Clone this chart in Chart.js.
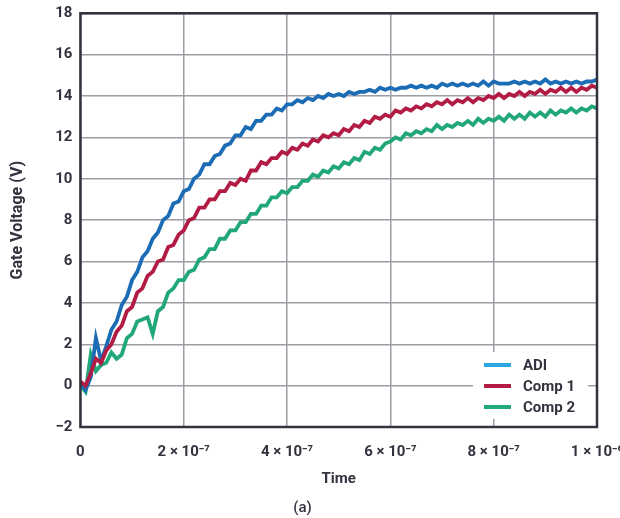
<!DOCTYPE html>
<html>
<head>
<meta charset="utf-8">
<script src="https://cdn.jsdelivr.net/npm/chart.js@4"></script>
<style>
  html, body { margin: 0; padding: 0; background: #ffffff; overflow: hidden; }
  #wrap { position: relative; width: 650px; height: 518px; }
</style>
</head>
<body>
<div id="wrap"><canvas id="gateChart"></canvas></div>
<script>
// time samples in ns
const timeNs = [0,10,20,30,40,50,60,70,80,90,100,110,120,130,140,150,160,170,180,190,
  200,210,220,230,240,250,260,270,280,290,300,310,320,330,340,350,360,370,380,390,
  400,410,420,430,440,450,460,470,480,490,500,510,520,530,540,550,560,570,580,590,
  600,610,620,630,640,650,660,670,680,690,700,710,720,730,740,750,760,770,780,790,
  800,810,820,830,840,850,860,870,880,890,900,910,920,930,940,950,960,970,980,990,1000];

const adiVolts = [0.1,-0.2,0.4,2.3,1.2,1.9,2.7,3.1,3.9,4.3,5.1,5.5,6.2,6.5,7.1,7.4,8.0,8.2,8.8,8.9,
  9.4,9.5,10.0,10.2,10.7,10.7,11.1,11.2,11.6,11.7,12.1,12.1,12.5,12.4,12.8,12.8,13.1,13.1,13.4,13.3,
  13.6,13.6,13.8,13.7,13.9,13.8,14.0,13.9,14.1,14.0,14.1,14.0,14.2,14.1,14.2,14.2,14.3,14.2,14.4,14.3,
  14.4,14.3,14.4,14.4,14.5,14.4,14.5,14.4,14.5,14.4,14.6,14.5,14.6,14.5,14.6,14.5,14.6,14.5,14.7,14.5,
  14.7,14.6,14.6,14.6,14.7,14.6,14.7,14.6,14.7,14.6,14.8,14.6,14.7,14.6,14.7,14.6,14.7,14.6,14.7,14.7,14.8];

const comp1Volts = [0.2,0.0,0.6,1.3,1.1,1.7,2.0,2.6,2.9,3.6,3.8,4.5,4.7,5.3,5.5,6.0,6.1,6.7,6.8,7.3,
  7.5,8.0,8.1,8.6,8.6,9.0,9.0,9.4,9.4,9.8,9.7,10.0,9.9,10.4,10.4,10.8,10.7,11.0,11.0,11.3,
  11.2,11.5,11.4,11.7,11.6,11.9,11.8,12.1,12.0,12.2,12.1,12.4,12.3,12.6,12.5,12.8,12.7,13.0,12.9,13.1,
  13.0,13.3,13.2,13.4,13.3,13.5,13.4,13.6,13.5,13.7,13.6,13.8,13.6,13.8,13.7,13.9,13.7,13.9,13.8,14.0,
  13.9,14.1,13.9,14.1,14.0,14.2,14.0,14.2,14.1,14.3,14.1,14.3,14.2,14.4,14.2,14.4,14.2,14.4,14.3,14.5,14.4];

const comp2Volts = [0.0,-0.3,1.5,0.7,1.0,1.1,1.6,1.3,1.5,2.3,2.5,3.1,3.2,3.3,2.5,3.6,3.8,4.5,4.7,5.1,
  5.1,5.5,5.6,6.1,6.2,6.6,6.6,7.1,7.1,7.5,7.5,7.9,7.9,8.3,8.3,8.7,8.7,9.1,9.1,9.4,
  9.3,9.6,9.6,9.9,9.9,10.2,10.1,10.4,10.3,10.6,10.5,10.8,10.7,11.0,10.9,11.3,11.2,11.5,11.4,11.7,
  11.8,12.0,11.9,12.2,12.1,12.3,12.2,12.4,12.3,12.6,12.4,12.6,12.5,12.7,12.6,12.8,12.6,12.9,12.7,12.9,
  12.8,13.0,12.8,13.1,12.9,13.1,12.9,13.2,13.0,13.2,13.0,13.3,13.1,13.3,13.2,13.4,13.2,13.4,13.3,13.5,13.4];

const seriesNames = ["ADI", "Comp 1", "Comp 2"];
const xTickValues = [0, 2e-7, 4e-7, 6e-7, 8e-7, 1e-6];
const xTickLabels = ["0", "2 × 10⁻⁷", "4 × 10⁻⁷", "6 × 10⁻⁷", "8 × 10⁻⁷", "1 × 10⁻⁶"];

const lineColors = ["#1b6cb4", "#b21c44", "#22a878"];
const legendColors = ["#2aa7df", "#b21c44", "#22a878"];
const textColor = "#33333f";
const fontFamily = "Roboto, 'Liberation Sans', sans-serif";

function toPoints(values) {
  return values.map((v, i) => ({ x: timeNs[i] * 1e-9, y: v }));
}

const framePlugin = {
  id: "frame",
  afterDatasetsDraw(chart) {
    const a = chart.chartArea;
    const ctx = chart.ctx;
    ctx.save();
    ctx.strokeStyle = textColor;
    ctx.lineWidth = 2.5;
    ctx.strokeRect(a.left, a.top, a.right - a.left, a.bottom - a.top);

    // legend box inside the plot, bottom right
    const bw = 115, bh = 67;
    const bx = a.right - 9 - bw;
    const by = a.bottom - 8 - bh;
    ctx.fillStyle = "#ffffff";
    ctx.fillRect(bx, by, bw, bh);
    ctx.font = "bold 15px " + fontFamily;
    ctx.textBaseline = "middle";
    for (let i = 0; i < seriesNames.length; i++) {
      const y = by + 13 + i * 21;
      ctx.strokeStyle = legendColors[i];
      ctx.lineWidth = 4;
      ctx.beginPath();
      ctx.moveTo(bx + 11, y);
      ctx.lineTo(bx + 38, y);
      ctx.stroke();
      ctx.fillStyle = textColor;
      ctx.fillText(seriesNames[i], bx + 50, y + 1);
    }
    ctx.restore();
  }
};

const gridColor = "#9d9da6";

new Chart(document.getElementById("gateChart"), {
  type: "line",
  data: {
    datasets: [
      { label: seriesNames[0], data: toPoints(adiVolts), borderColor: lineColors[0], order: 2 },
      { label: seriesNames[1], data: toPoints(comp1Volts), borderColor: lineColors[1], order: 1 },
      { label: seriesNames[2], data: toPoints(comp2Volts), borderColor: lineColors[2], order: 3 }
    ]
  },
  options: {
    responsive: true,
    maintainAspectRatio: false,
    animation: false,
    datasets: {
      line: { borderWidth: 3.8, pointRadius: 0, tension: 0, fill: false }
    },
    layout: { padding: { left: 8, top: 0, right: 53, bottom: 0 } },
    plugins: {
      legend: { display: false },
      tooltip: { enabled: false },
      title: {
        display: true,
        position: "bottom",
        text: "(a)",
        color: textColor,
        font: { family: fontFamily, size: 15, weight: "500" },
        padding: { top: 11, bottom: 1 }
      }
    },
    scales: {
      x: {
        type: "linear",
        min: 0,
        max: 1e-6,
        afterBuildTicks(axis) {
          axis.ticks = xTickValues.map(v => ({ value: v }));
        },
        ticks: {
          color: textColor,
          font: { family: fontFamily, size: 15, weight: "bold" },
          padding: 16,
          maxRotation: 0,
          callback: (value, index) => xTickLabels[index]
        },
        grid: { color: gridColor, lineWidth: 1.5, drawTicks: false },
        border: { display: false },
        title: {
          display: true,
          text: "Time",
          color: textColor,
          font: { family: fontFamily, size: 15, weight: "bold" },
          padding: { top: -7, bottom: 0 }
        }
      },
      y: {
        min: -2,
        max: 18,
        ticks: {
          stepSize: 2,
          color: textColor,
          font: { family: fontFamily, size: 15, weight: "bold", lineHeight: 0.7 },
          padding: 8,
          callback: v => String(v).replace("-", "\u2212")
        },
        grid: { color: gridColor, lineWidth: 1.5, drawTicks: false },
        border: { display: false },
        title: {
          display: true,
          text: "Gate Voltage (V)",
          color: textColor,
          font: { family: fontFamily, size: 16, weight: "bold" },
          padding: { top: 0, bottom: 20 }
        }
      }
    }
  },
  plugins: [framePlugin]
});
</script>
</body>
</html>
